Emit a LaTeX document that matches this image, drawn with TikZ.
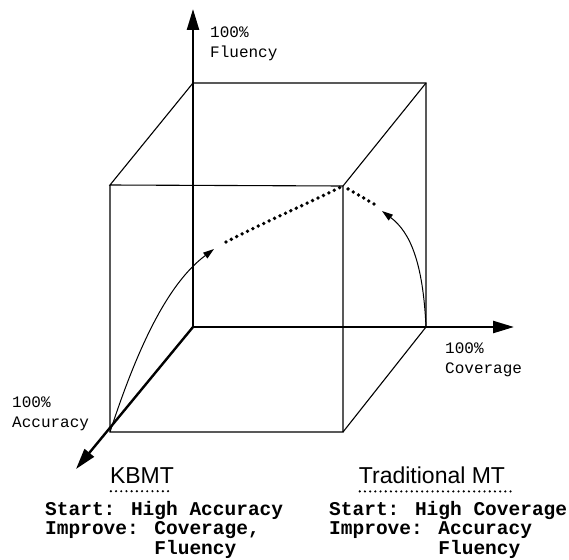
\documentclass[tikz,border=0pt]{standalone}
\usepackage{fontspec}
\usetikzlibrary{arrows.meta}
\newfontfamily\lblfont{Liberation Mono}
\newfontfamily\ttlfont{Liberation Sans}
\newfontfamily\blkfont{Liberation Mono}
\begin{document}
\begin{tikzpicture}[x=1pt,y=-1pt,
  cubeedge/.style={line width=1.1pt},
  axisline/.style={line width=2.4pt,-{Triangle[length=21pt,width=12pt]}},
  curveline/.style={line width=1pt,-{Triangle[length=11pt,width=7pt]}},
  dotline/.style={line width=3.8pt,line cap=round,dash pattern=on 0pt off 6pt},
  uline/.style={line width=2.4pt,line cap=round,dash pattern=on 0pt off 5.2pt},
  lbl/.style={inner sep=0pt,anchor=base west,align=left,font=\lblfont\fontsize{16}{20}\selectfont},
  ttl/.style={inner sep=0pt,anchor=base,font=\ttlfont\fontsize{23}{26}\selectfont},
  blk/.style={inner sep=0pt,anchor=base west,align=left,font=\blkfont\bfseries\fontsize{19.5}{19.5}\selectfont}]
\useasboundingbox (0,0) rectangle (569,559);
% cube corners
\coordinate (O) at (193,327);
\coordinate (BT) at (193,83);
\coordinate (BTR) at (426,83);
\coordinate (BBR) at (426,327);
\coordinate (FTL) at (110,185);
\coordinate (FTR) at (343,186);
\coordinate (FBR) at (343,432);
\coordinate (FBL) at (110,432);
% axis tips
\coordinate (Fy) at (193,9);
\coordinate (Cx) at (514,327);
\coordinate (Az) at (76,469);
% cube edges
\draw[cubeedge] (BT) -- (BTR) -- (BBR) -- (FBR);
\draw[cubeedge] (BT) -- (FTL) -- (FTR) -- (FBR) -- (FBL) -- (FTL);
\draw[cubeedge] (BTR) -- (FTR);
% axes
\draw[axisline] (O) -- (Fy);
\draw[axisline] (O) -- (Cx);
\draw[axisline] (O) -- (Az);
% KBMT path
\coordinate (Ka) at (214,249);
\draw[curveline] (FBL) .. controls (140,340) and (170,282) .. (Ka);
\draw[dotline] (226,242) .. controls (265,222) and (300,207) .. (FTR);
% Traditional MT path
\coordinate (Ta) at (382,211);
\draw[curveline] (BBR) .. controls (423,262) and (410,232) .. (Ta);
\draw[dotline] (374,204) -- (FTR);
% axis labels (base = last line)
\node[lbl] (lf) at (210,58) {100\%\\Fluency};
\node[lbl] (lc) at (445,373) {100\%\\Coverage};
\node[lbl] (la) at (12,427) {100\%\\Accuracy};
% titles
\node[ttl] (tk) at (142,483) {KBMT};
\node[ttl] (tt) at (432,483) {Traditional MT};
\draw[uline] (tk.south west) ++(1,8) -- ++(61,0);
\draw[uline] (tt.south west) ++(1,8) -- ++(153,0);
% blocks (base = last line)
\node[blk] (bk) at (45,554) {Start: High Accuracy\\Improve: Coverage,\\\phantom{Improve: }Fluency};
\node[blk] (bt) at (329,554) {Start: High Coverage\\Improve: Accuracy\\\phantom{Improve: }Fluency};
\end{tikzpicture}
\end{document}
